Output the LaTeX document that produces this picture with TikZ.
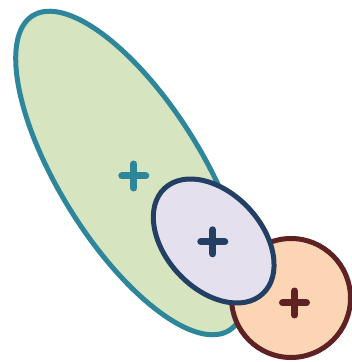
\documentclass[tikz,border=0pt]{standalone}
\usepackage{tikz}
\definecolor{tealB}{HTML}{2E869B}
\definecolor{greenF}{HTML}{D7E4C0}
\definecolor{navyB}{HTML}{233F63}
\definecolor{lavF}{HTML}{E4E0EE}
\definecolor{redB}{HTML}{5E2124}
\definecolor{peachF}{HTML}{FCD6B4}
\tikzset{
  setshape/.style={line width=5pt},
  plusmark/.style={line width=7pt, line cap=round}
}
\newcommand{\plusat}[3]{\draw[plusmark,#3] ($(#1,#2)+(-12pt,0)$) -- ($(#1,#2)+(12pt,0)$) ($(#1,#2)+(0,-12pt)$) -- ($(#1,#2)+(0,12pt)$);}
\usetikzlibrary{calc}
\begin{document}
\begin{tikzpicture}[x=1pt,y=1pt]
\useasboundingbox (0,0) rectangle (352,362);
% green ellipse
\draw[setshape, draw=tealB, fill=greenF, rotate around={-58:(131,189)}] (131,189) ellipse [x radius=185.5, y radius=71];
% orange circle
\draw[setshape, draw=redB, fill=peachF] (291,64) circle [radius=59.5];
% lavender ellipse
\draw[setshape, draw=navyB, fill=lavF, rotate around={-47:(213.7,121)}] (213.7,121) ellipse [x radius=72, y radius=48];
% plus marks
\plusat{133.8}{186}{tealB}
\plusat{212.8}{120.2}{navyB}
\plusat{294.5}{59}{redB}
\end{tikzpicture}
\end{document}
